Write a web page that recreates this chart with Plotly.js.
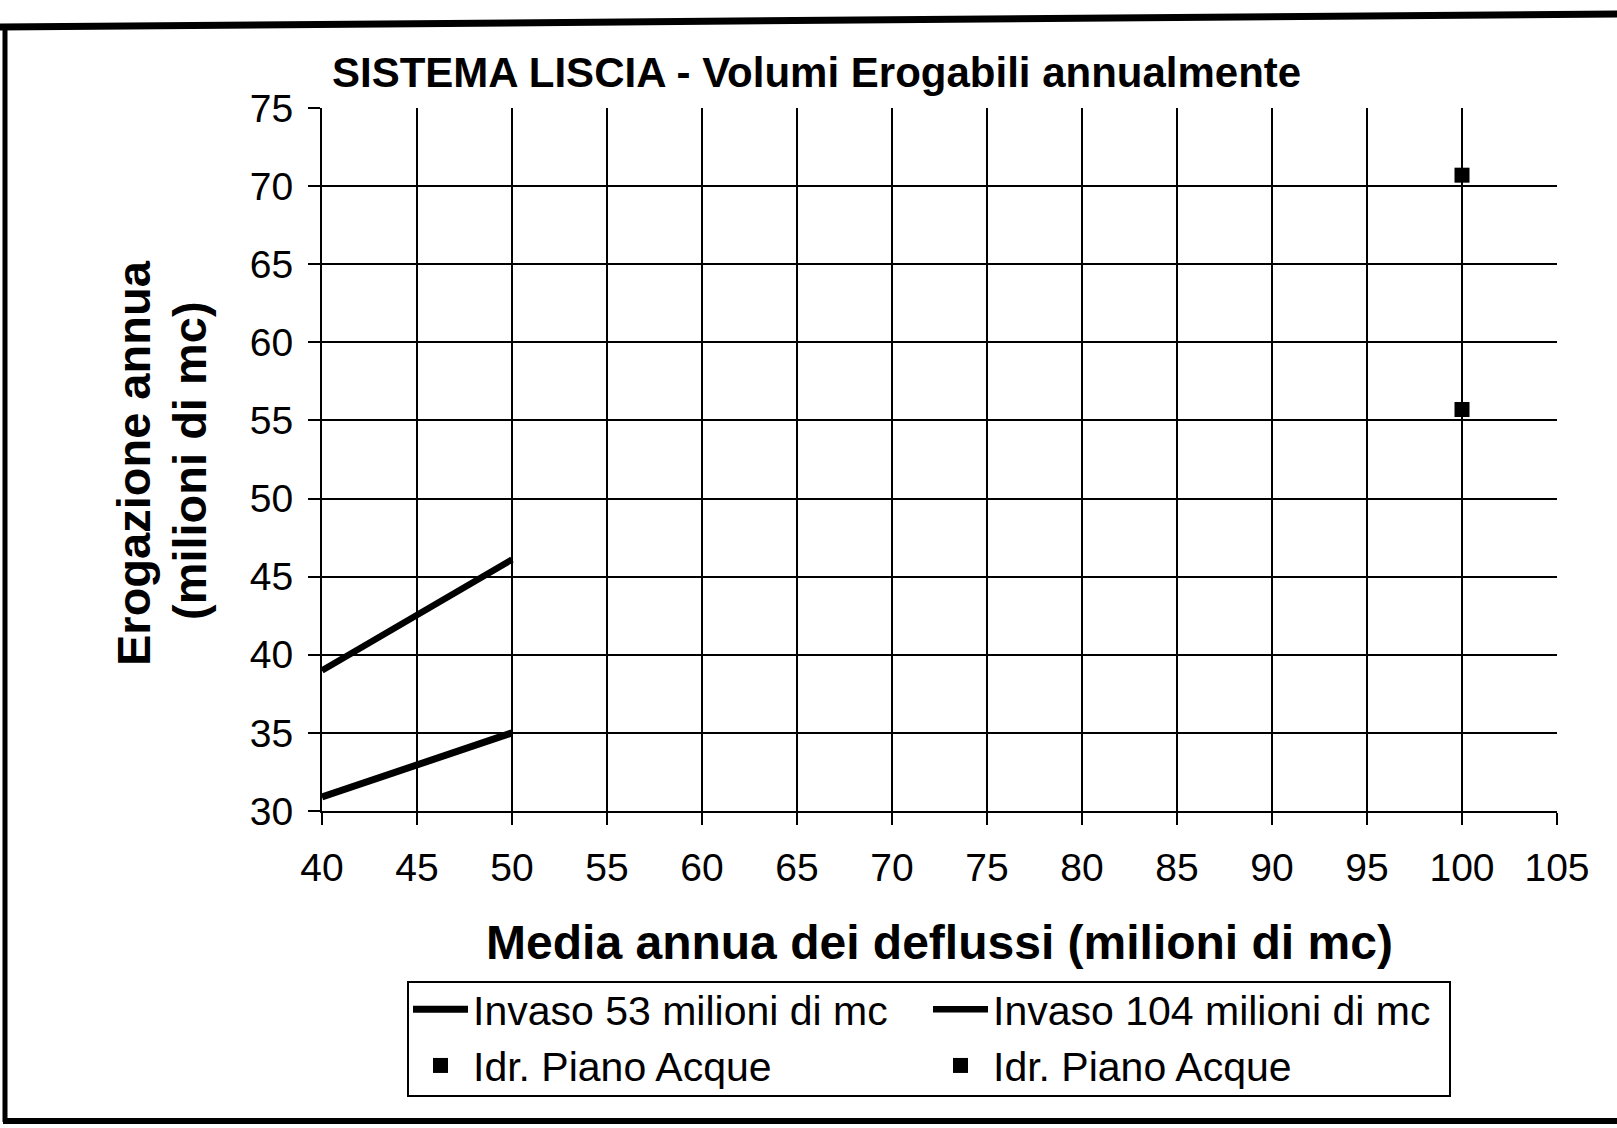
<!DOCTYPE html>
<html>
<head>
<meta charset="utf-8">
<script src="https://cdn.plot.ly/plotly-3.0.1.min.js"></script>
<style>
html,body{margin:0;padding:0;background:#fff;}
#chart{width:1617px;height:1128px;}
</style>
</head>
<body>
<div id="chart"></div>
<script>
// ---- data ----
const x53 = [40, 50];
const y53 = [30.9, 35.0];
const x104 = [40, 50];
const y104 = [39.0, 46.1];
const xIdrA = [100];
const yIdrA = [70.7];
const xIdrB = [100];
const yIdrB = [55.7];
const names = ["Invaso 53 milioni di mc", "Invaso 104 milioni di mc", "Idr. Piano Acque", "Idr. Piano Acque"];
const xTicks = [40, 45, 50, 55, 60, 65, 70, 75, 80, 85, 90, 95, 100, 105];
const yTicks = [30, 35, 40, 45, 50, 55, 60, 65, 70, 75];
const titleText = "SISTEMA LISCIA - Volumi Erogabili annualmente";
const xTitle = "Media annua dei deflussi (milioni di mc)";
const yTitleLines = ["Erogazione annua", "(milioni di mc)"];

const FONT = "Liberation Sans, Arial, sans-serif";

// plot-area geometry in pixels
const W = 1617, H = 1128;
const L = 322, R = 60, T = 108, B = 317;
const pw = W - L - R, ph = H - T - B;
const px = v => (v - L) / pw;          // pixel x -> paper
const py = v => (H - B - v) / ph;      // pixel y -> paper

const traces = [
  {x: x53, y: y53, name: names[0], mode: "lines", line: {color: "#000", width: 7}},
  {x: x104, y: y104, name: names[1], mode: "lines", line: {color: "#000", width: 6.5}},
  {x: xIdrA, y: yIdrA, name: names[2], mode: "markers", marker: {symbol: "square", size: 15, color: "#000"}},
  {x: xIdrB, y: yIdrB, name: names[3], mode: "markers", marker: {symbol: "square", size: 15, color: "#000"}}
];

const axisCommon = {
  showgrid: true, gridcolor: "#000", gridwidth: 2,
  showline: true, linecolor: "#000", linewidth: 2, mirror: false,
  ticks: "outside", ticklen: 12, tickwidth: 2, tickcolor: "#000",
  zeroline: false, fixedrange: true,
  tickfont: {family: FONT, size: 39, color: "#000"}
};

const layout = {
  width: W, height: H,
  margin: {l: L, r: R, t: T, b: B},
  paper_bgcolor: "#fff", plot_bgcolor: "#fff",
  font: {family: FONT, color: "#000"},
  showlegend: true,
  xaxis: Object.assign({}, axisCommon, {
    range: [40, 105], tickvals: xTicks, ticktext: xTicks.map(String),
    ticklabelstandoff: 9,
    title: {text: "<b>" + xTitle + "</b>", font: {family: FONT, size: 48, color: "#000"}, standoff: 38}
  }),
  yaxis: Object.assign({}, axisCommon, {
    range: [30, 75], tickvals: yTicks, ticktext: yTicks.map(String),
    ticklabelstandoff: 7
  }),
  annotations: [
    {text: "<b>" + titleText + "</b>", xref: "paper", yref: "paper", x: px(816), y: py(72),
     xanchor: "center", yanchor: "middle", showarrow: false,
     font: {family: FONT, size: 42, color: "#000"}},
    {text: "<b>" + yTitleLines[0] + "</b>", xref: "paper", yref: "paper", x: px(134), y: py(463),
     xanchor: "center", yanchor: "middle", textangle: -90, showarrow: false,
     font: {family: FONT, size: 47, color: "#000"}},
    {text: "<b>" + yTitleLines[1] + "</b>", xref: "paper", yref: "paper", x: px(189), y: py(461),
     xanchor: "center", yanchor: "middle", textangle: -90, showarrow: false,
     font: {family: FONT, size: 47, color: "#000"}}
  ],
  legend: {
    orientation: "h",
    x: px(408), y: py(976), xanchor: "left", yanchor: "top",
    bgcolor: "rgba(0,0,0,0)", borderwidth: 0,
    font: {family: FONT, size: 41, color: "#000"},
    itemwidth: 55, entrywidth: 450, entrywidthmode: "pixels",
    traceorder: "normal"
  },
  shapes: [
    // legend box
    {type: "rect", xref: "paper", yref: "paper", x0: px(408), y0: py(982), x1: px(1450), y1: py(1096), line: {color: "#000", width: 2}},
    // outer thick frame of the scanned page
    {type: "line", xref: "paper", yref: "paper", x0: px(0), y0: py(27), x1: px(1617), y1: py(14), line: {color: "#000", width: 7}},
    {type: "line", xref: "paper", yref: "paper", x0: px(5), y0: py(25), x1: px(5), y1: py(1122), line: {color: "#000", width: 5}},
    {type: "line", xref: "paper", yref: "paper", x0: px(3), y0: py(1121), x1: px(1617), y1: py(1121), line: {color: "#000", width: 6}}
  ]
};

Plotly.newPlot("chart", traces, layout, {displayModeBar: false, staticPlot: true});
</script>
</body>
</html>
